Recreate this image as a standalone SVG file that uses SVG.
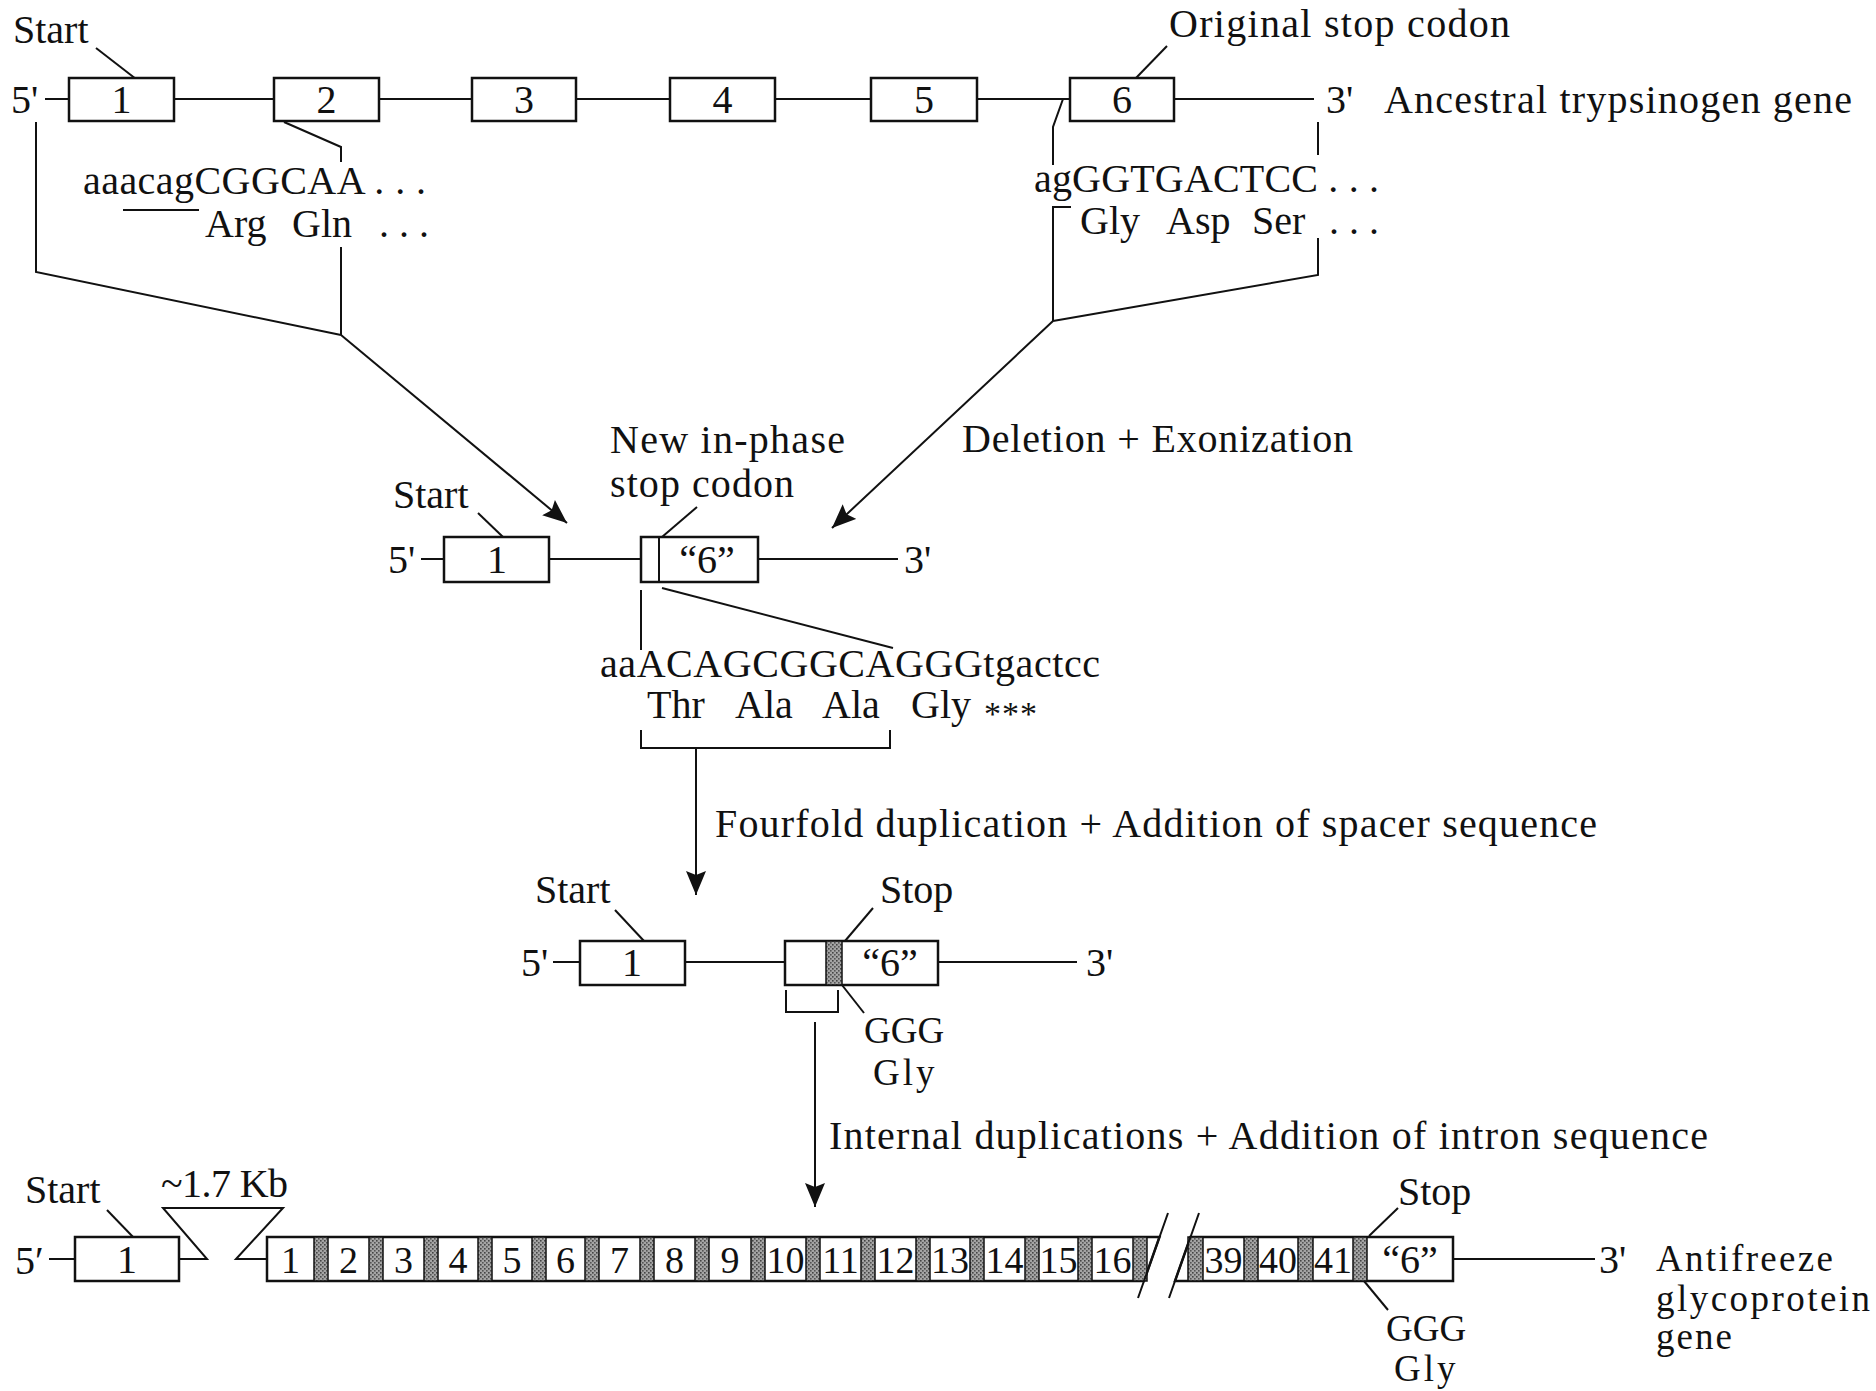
<svg xmlns="http://www.w3.org/2000/svg" width="1876" height="1391" viewBox="0 0 1876 1391">
<defs>
<style>
.t{font-family:"Liberation Serif","Times New Roman",serif;font-size:40px;fill:#111}
.c{text-anchor:middle}
.n{font-size:38px}
.s{font-size:37px}
.ln{stroke:#111;stroke-width:2;fill:none}
.bx{fill:#fff;stroke:#111;stroke-width:2.5}
.sh{fill:url(#stip);stroke:#111;stroke-width:1.5}
.ar{stroke:#111;stroke-width:2;fill:none;marker-end:url(#ah)}
</style>
<pattern id="stip" width="4" height="4" patternUnits="userSpaceOnUse">
<rect width="4" height="4" fill="#a4a4a4"/>
<rect x="0" y="0" width="1.6" height="1.6" fill="#444"/>
<rect x="2" y="2" width="1.6" height="1.6" fill="#555"/>
</pattern>
<marker id="ah" markerUnits="userSpaceOnUse" markerWidth="26" markerHeight="22" refX="24" refY="10" orient="auto">
<path d="M0,0 L24,10 L0,20 L4,10 z" fill="#111"/>
</marker>
</defs>
<rect width="1876" height="1391" fill="#fff"/>

<g id="connectors">
<line class="ln" x1="96" y1="48" x2="136" y2="79"/>
<line class="ln" x1="1167" y1="46" x2="1136" y2="78"/>
<path class="ln" d="M284,122 L341,147 V162"/>
<path class="ln" d="M123,210 H199"/>
<path class="ln" d="M36,122 V272 L341,335"/>
<path class="ln" d="M341,247 V335"/>
<path class="ar" d="M341,335 L567,523"/>
<path class="ln" d="M1063,99 L1053,127 V165"/>
<path class="ln" d="M1071,207 H1053 V321"/>
<path class="ln" d="M1318,122 V155"/>
<path class="ln" d="M1318,238 V275 L1053,321"/>
<path class="ar" d="M1053,321 L832,528"/>
<line class="ln" x1="478" y1="513" x2="503" y2="537"/>
<line class="ln" x1="697" y1="507" x2="662" y2="537"/>
<path class="ln" d="M641,590 V650"/>
<path class="ln" d="M662,588 L893,648"/>
<path class="ln" d="M641,730 V748 H890 V730"/>
<path class="ar" d="M696,748 V895"/>
<line class="ln" x1="615" y1="910" x2="644" y2="941"/>
<line class="ln" x1="873" y1="908" x2="845" y2="941"/>
<path class="ln" d="M786,990 V1012 H838 V990"/>
<line class="ln" x1="842" y1="985" x2="864" y2="1013"/>
<path class="ar" d="M815,1022 V1207"/>
<line class="ln" x1="107" y1="1210" x2="134" y2="1238"/>
<line class="ln" x1="1369" y1="1236" x2="1398" y2="1208"/>
<line class="ln" x1="1364" y1="1281" x2="1388" y2="1310"/>
</g>

<g id="ancestral-gene">
<line class="ln" x1="45" y1="99" x2="1314" y2="99"/>
<text class="t" x="11" y="113">5'</text>
<text class="t" x="1326" y="113">3'</text>
<g id="a-exon1"><rect class="bx" x="69" y="78" width="105" height="43"/><text class="t c" x="121.5" y="113">1</text></g>
<g id="a-exon2"><rect class="bx" x="274" y="78" width="105" height="43"/><text class="t c" x="326.5" y="113">2</text></g>
<g id="a-exon3"><rect class="bx" x="472" y="78" width="104" height="43"/><text class="t c" x="524" y="113">3</text></g>
<g id="a-exon4"><rect class="bx" x="670" y="78" width="105" height="43"/><text class="t c" x="722.5" y="113">4</text></g>
<g id="a-exon5"><rect class="bx" x="871" y="78" width="106" height="43"/><text class="t c" x="924" y="113">5</text></g>
<g id="a-exon6"><rect class="bx" x="1070" y="78" width="104" height="43"/><text class="t c" x="1122" y="113">6</text></g>
<text class="t" x="1384" y="113" textLength="468">Ancestral trypsinogen gene</text>
<text class="t" x="13" y="43">Start</text>
<text class="t" x="1169" y="37" textLength="341">Original stop codon</text>
<text class="t" x="83" y="194" textLength="343">aaacagCGGCAA . . .</text>
<text class="t" y="237"><tspan x="205">Arg</tspan><tspan x="292">Gln</tspan><tspan x="379">. . .</tspan></text>
<text class="t" x="1034" y="192" textLength="345">agGGTGACTCC . . .</text>
<text class="t" y="234"><tspan x="1080">Gly</tspan><tspan x="1166">Asp</tspan><tspan x="1252">Ser</tspan><tspan x="1329">. . .</tspan></text>
</g>

<g id="intermediate-gene">
<text class="t" x="962" y="452" textLength="391">Deletion + Exonization</text>
<text class="t" x="610" y="453" textLength="235">New in-phase</text>
<text class="t" x="610" y="497" textLength="184">stop codon</text>
<text class="t" x="393" y="508">Start</text>
<line class="ln" x1="421" y1="559" x2="898" y2="559"/>
<text class="t" x="388" y="573">5'</text>
<text class="t" x="904" y="573">3'</text>
<g id="i-exon1"><rect class="bx" x="444" y="537" width="105" height="45"/><text class="t c" x="497" y="573">1</text></g>
<g id="i-exon6"><rect class="bx" x="641" y="537" width="117" height="45"/><line class="ln" x1="659" y1="537" x2="659" y2="582"/><text class="t c" x="707" y="573">“6”</text></g>
<text class="t" x="600" y="677" textLength="500">aaACAGCGGCAGGGtgactcc</text>
<text class="t" y="718"><tspan x="647">Thr</tspan><tspan x="735">Ala</tspan><tspan x="822">Ala</tspan><tspan x="911">Gly</tspan><tspan x="984" font-size="34" dy="7" letter-spacing="1">***</tspan></text>
<text class="t" x="715" y="837" textLength="882">Fourfold duplication + Addition of spacer sequence</text>
</g>

<g id="duplicated-gene">
<text class="t" x="535" y="903">Start</text>
<text class="t" x="880" y="903">Stop</text>
<line class="ln" x1="553" y1="962" x2="1077" y2="962"/>
<text class="t" x="521" y="976">5'</text>
<text class="t" x="1086" y="976">3'</text>
<g id="d-exon1"><rect class="bx" x="580" y="941" width="105" height="44"/><text class="t c" x="632" y="976">1</text></g>
<g id="d-exon2"><rect class="bx" x="785" y="941" width="153" height="44"/><rect class="sh" x="826" y="941" width="16" height="44"/><text class="t c" x="890" y="976">“6”</text></g>
<text class="t s" x="864" y="1043">GGG</text>
<text class="t s" x="873" y="1085" letter-spacing="3">Gly</text>
<text class="t" x="829" y="1149" textLength="879">Internal duplications + Addition of intron sequence</text>
</g>

<g id="antifreeze-gene">
<text class="t" x="25" y="1203">Start</text>
<text class="t" x="161" y="1197" textLength="127">~1.7 Kb</text>
<text class="t" x="15" y="1274">5′</text>
<line class="ln" x1="49" y1="1259" x2="75" y2="1259"/>
<g id="f-exon1"><rect class="bx" x="75" y="1237" width="104" height="44"/><text class="t c" x="127" y="1273">1</text></g>
<path class="ln" d="M179,1259 H207 L163,1208 H283 L236,1259 H268"/>
<g id="f-repeats-left">
<polygon class="bx" points="267,1237 1159.5,1237 1144,1281 267,1281"/>
<rect class="sh" x="314" y="1237" width="14" height="44"/>
<rect class="sh" x="369" y="1237" width="14" height="44"/>
<rect class="sh" x="424" y="1237" width="14" height="44"/>
<rect class="sh" x="478" y="1237" width="14" height="44"/>
<rect class="sh" x="532" y="1237" width="14" height="44"/>
<rect class="sh" x="585" y="1237" width="14" height="44"/>
<rect class="sh" x="640" y="1237" width="14" height="44"/>
<rect class="sh" x="695" y="1237" width="14" height="44"/>
<rect class="sh" x="751" y="1237" width="14" height="44"/>
<rect class="sh" x="806" y="1237" width="14" height="44"/>
<rect class="sh" x="861" y="1237" width="14" height="44"/>
<rect class="sh" x="916" y="1237" width="14" height="44"/>
<rect class="sh" x="970" y="1237" width="14" height="44"/>
<rect class="sh" x="1025" y="1237" width="14" height="44"/>
<rect class="sh" x="1078" y="1237" width="14" height="44"/>
<rect class="sh" x="1133" y="1237" width="14" height="44"/>
<text class="t c n" x="290.5" y="1273">1</text>
<text class="t c n" x="348.5" y="1273">2</text>
<text class="t c n" x="403.5" y="1273">3</text>
<text class="t c n" x="458" y="1273">4</text>
<text class="t c n" x="512" y="1273">5</text>
<text class="t c n" x="565.5" y="1273">6</text>
<text class="t c n" x="619.5" y="1273">7</text>
<text class="t c n" x="674.5" y="1273">8</text>
<text class="t c n" x="730" y="1273">9</text>
<text class="t c n" x="785.5" y="1273">10</text>
<text class="t c n" x="840.5" y="1273">11</text>
<text class="t c n" x="895.5" y="1273">12</text>
<text class="t c n" x="950" y="1273">13</text>
<text class="t c n" x="1004.5" y="1273">14</text>
<text class="t c n" x="1058.5" y="1273">15</text>
<text class="t c n" x="1112.5" y="1273">16</text>
</g>
<g id="f-repeats-right">
<polygon class="bx" points="1190.5,1237 1453,1237 1453,1281 1175,1281"/>
<rect class="sh" x="1188" y="1237" width="15" height="44"/>
<rect class="sh" x="1244" y="1237" width="14" height="44"/>
<rect class="sh" x="1298" y="1237" width="15" height="44"/>
<rect class="sh" x="1353" y="1237" width="14" height="44"/>
<text class="t c n" x="1223.5" y="1273">39</text>
<text class="t c n" x="1278" y="1273">40</text>
<text class="t c n" x="1333" y="1273">41</text>
<text class="t c" x="1410" y="1273">“6”</text>
</g>
<line class="ln" x1="1168" y1="1213" x2="1138" y2="1298"/>
<line class="ln" x1="1199" y1="1213" x2="1169" y2="1298"/>
<line class="ln" x1="1453" y1="1259" x2="1595" y2="1259"/>
<text class="t" x="1599" y="1273">3'</text>
<text class="t" x="1398" y="1205">Stop</text>
<text class="t s" x="1386" y="1341">GGG</text>
<text class="t s" x="1394" y="1381" letter-spacing="3">Gly</text>
<text class="t s" x="1656" y="1271" textLength="177">Antifreeze</text>
<text class="t s" x="1656" y="1311" textLength="214">glycoprotein</text>
<text class="t s" x="1656" y="1349" textLength="76">gene</text>
</g>
</svg>
